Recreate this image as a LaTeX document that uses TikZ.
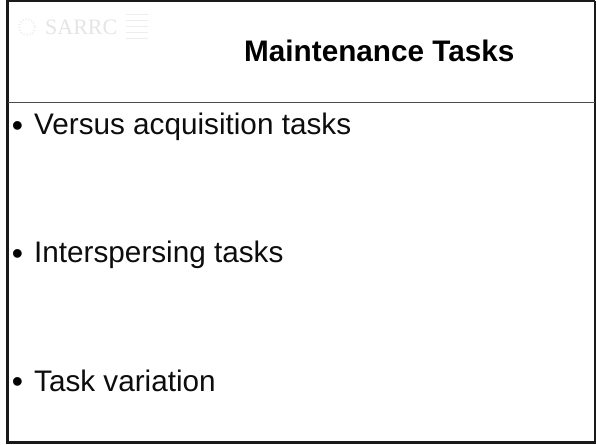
\documentclass[tikz,border=0pt]{standalone}
\usepackage{fontspec}
\setmainfont{Liberation Sans}
\newfontfamily\logofont{Liberation Serif}
\tikzset{
  bodytext/.style={anchor=base west,inner sep=0pt,font=\fontsize{29.7}{34}\selectfont,text=black!95},
  bullettext/.style={anchor=base west,inner sep=0pt,font=\fontsize{32}{34}\selectfont,text=black},
  titletext/.style={anchor=base west,inner sep=0pt,font=\fontsize{29.7}{34}\selectfont\bfseries,text=black},
  logotext/.style={anchor=base west,inner sep=0pt,font=\fontsize{22}{26}\logofont,text=black!10},
  logomark/.style={black!7,line width=1pt},
  frameline/.style={line width=#1,black!90,line cap=butt}
}
\begin{document}
\begin{tikzpicture}[x=1pt,y=-1pt]
\useasboundingbox (0,0) rectangle (596,444);
\fill[white] (0,0) rectangle (596,444);
\coordinate (tl) at (7.5,1);
\coordinate (tr) at (595,1);
\coordinate (bl) at (7.5,442.5);
\coordinate (br) at (595,442.5);
\coordinate (ml) at (7.5,102.5);
\coordinate (mr) at (595,102.5);
\draw[frameline=2pt] (6,1) -- (tr);
\draw[frameline=1.6pt] (tr) -- (595,444);
\draw[frameline=3pt] (tl) -- (bl);
\draw[frameline=3pt] (6,442.5) -- (596,442.5);
\draw[line width=1.2pt,black!70] (ml) -- (mr);
% faint logo
\draw[logomark,dotted,line width=2pt] (27,27) circle (8);
\foreach \yy in {15,21,27,33,39} \draw[logomark] (126,\yy) -- (148,\yy);
\node[logotext] (logo) at (45,35) {SARRC};
\node[titletext] (title) at (244,61) {Maintenance Tasks};
\node[bullettext] (b1) at (11.7,136) {•};
\node[bodytext] (t1) at (34,134.5) {Versus acquisition tasks};
\node[bullettext] (b2) at (11.7,264) {•};
\node[bodytext] (t2) at (34,262.7) {Interspersing tasks};
\node[bullettext] (b3) at (11.7,392) {•};
\node[bodytext] (t3) at (34,391) {Task variation};
\end{tikzpicture}
\end{document}
